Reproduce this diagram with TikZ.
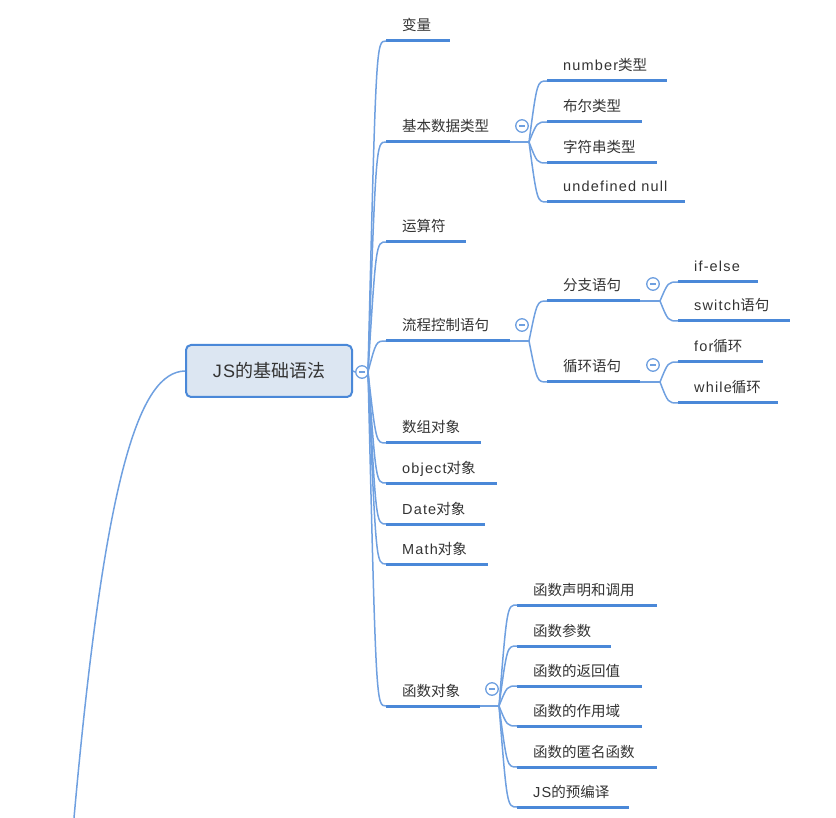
\documentclass[tikz,border=0pt]{standalone}
\usepackage{fontspec}
\setmainfont{Noto Sans CJK SC}
\newfontfamily\lat[LetterSpace=8]{Liberation Sans}
\usetikzlibrary{calc}
\definecolor{mmblue}{HTML}{4A88D8}
\definecolor{mmlight}{HTML}{6FA0E0}
\definecolor{mmfill}{HTML}{DCE6F2}
\definecolor{mmtext}{HTML}{333333}
\tikzset{
  ul/.style={draw=mmblue, line width=3pt},
  cn/.style={draw=mmlight, line width=1.5pt},
  txt/.style={anchor=base west, inner sep=0pt, text=mmtext, font=\fontsize{14.5}{16}\selectfont},
  rootbox/.style={draw=mmblue, line width=2pt, fill=mmfill, rounded corners=5pt,
    minimum width=166pt, minimum height=52pt, inner sep=0pt, text=mmtext,
    font=\fontsize{18}{20}\selectfont},
  collapse/.style={circle, draw=mmlight, line width=1.3pt, fill=white, minimum size=12.5pt, inner sep=0pt,
    path picture={\draw[mmlight, line width=1.1pt] ([xshift=-2.8pt]path picture bounding box.center) -- ([xshift=2.8pt]path picture bounding box.center);}}
}
\newcommand\mmtopic[5]{%
  \coordinate (#1-a) at (#2,#4);
  \coordinate (#1-b) at (#3,#4);
  \node[txt] (#1) at ({#2+16},{#4-10}) {#5};
  \draw[ul] (#1-a) -- (#1-b);}
\newcommand\mmconn[2]{%
  \draw[cn] (#1) .. controls ($(#1 |- #2-a)!0.45!(#2-a)$) .. (#2-a);}
\begin{document}
\begin{tikzpicture}[x=1pt,y=-1pt]
\useasboundingbox (0,0) rectangle (836,818);

% root
\node[rootbox] (root) at (269,371) {{\lat JS}的基础语法};
\node[collapse] (rc) at (362,372) {};
\coordinate (rp) at (368,372);
\coordinate (tail) at (74,818);
\draw[cn] (root.west) .. controls (140,372) and (105,470) .. (tail);
\draw[cn] (root.east) -- (rc.west);

% first level
\mmtopic{bl}{386}{450}{41}{变量}
\mmtopic{jb}{386}{510}{142}{基本数据类型}
\mmtopic{ys}{386}{466}{242}{运算符}
\mmtopic{lc}{386}{510}{341}{流程控制语句}
\mmtopic{sz}{386}{481}{443}{数组对象}
\mmtopic{ob}{386}{497}{483}{{\lat object}对象}
\mmtopic{da}{386}{485}{524}{{\lat Date}对象}
\mmtopic{ma}{386}{488}{564}{{\lat Math}对象}
\mmtopic{hs}{386}{480}{706}{函数对象}
\foreach \c in {bl,jb,ys,lc,sz,ob,da,ma,hs} {\mmconn{rp}{\c}}

% 基本数据类型
\coordinate (jb-p) at (529,142);
\draw[cn] (jb-b) -- (jb-p);
\node[collapse] (jbc) at (522,126) {};
\mmtopic{n1}{547}{667}{81}{{\lat number}类型}
\mmtopic{n2}{547}{642}{122}{布尔类型}
\mmtopic{n3}{547}{657}{163}{字符串类型}
\mmtopic{n4}{547}{685}{202}{{\lat undefined null}}
\foreach \c in {n1,n2,n3,n4} {\mmconn{jb-p}{\c}}

% 流程控制语句
\coordinate (lc-p) at (529,341);
\draw[cn] (lc-b) -- (lc-p);
\node[collapse] (lcc) at (522,325) {};
\mmtopic{fz}{547}{640}{301}{分支语句}
\mmtopic{xh}{547}{640}{382}{循环语句}
\foreach \c in {fz,xh} {\mmconn{lc-p}{\c}}

\coordinate (fz-p) at (660,301);
\draw[cn] (fz-b) -- (fz-p);
\node[collapse] (fzc) at (653,284) {};
\mmtopic{ie}{678}{758}{282}{{\lat if-else}}
\mmtopic{sw}{678}{790}{321}{{\lat switch}语句}
\foreach \c in {ie,sw} {\mmconn{fz-p}{\c}}

\coordinate (xh-p) at (660,382);
\draw[cn] (xh-b) -- (xh-p);
\node[collapse] (xhc) at (653,365) {};
\mmtopic{fo}{678}{763}{362}{{\lat for}循环}
\mmtopic{wh}{678}{778}{403}{{\lat while}循环}
\foreach \c in {fo,wh} {\mmconn{xh-p}{\c}}

% 函数对象
\coordinate (hs-p) at (499,706);
\draw[cn] (hs-b) -- (hs-p);
\node[collapse] (hsc) at (492,689) {};
\mmtopic{h1}{517}{657}{605}{函数声明和调用}
\mmtopic{h2}{517}{611}{646}{函数参数}
\mmtopic{h3}{517}{642}{686}{函数的返回值}
\mmtopic{h4}{517}{642}{726}{函数的作用域}
\mmtopic{h5}{517}{657}{767}{函数的匿名函数}
\mmtopic{h6}{517}{629}{807}{{\lat JS}的预编译}
\foreach \c in {h1,h2,h3,h4,h5,h6} {\mmconn{hs-p}{\c}}
\end{tikzpicture}
\end{document}
